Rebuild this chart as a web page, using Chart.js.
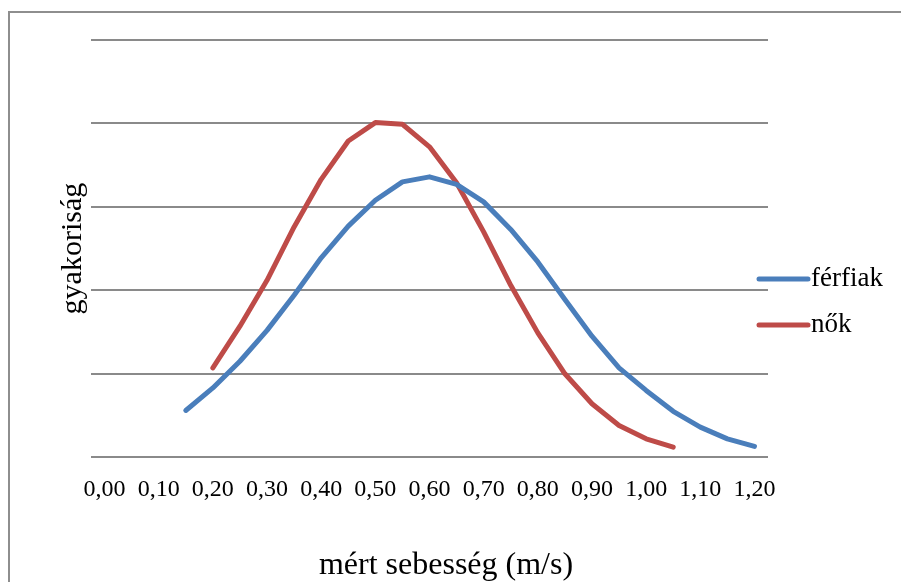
<!DOCTYPE html>
<html>
<head>
<meta charset="utf-8">
<script src="https://cdn.jsdelivr.net/npm/chart.js@4.4.1/dist/chart.umd.min.js"></script>
<style>
  html, body { margin: 0; padding: 0; background: #fff; }
  #wrap { position: relative; width: 901px; height: 582px; overflow: hidden; }
  #frame { position: absolute; left: 8px; top: 11px; width: 1000px; height: 1000px;
           border-left: 2px solid #8e8e8e; border-top: 2px solid #8e8e8e; }
  canvas { position: absolute; left: 0; top: 0; }
</style>
</head>
<body>
<div id="wrap">
  <div id="frame"></div>
  <canvas id="myChart" width="901" height="582"></canvas>
</div>
<script>
// speed categories (m/s), every 0.05
const speeds = ['0,00','0,05','0,10','0,15','0,20','0,25','0,30','0,35','0,40','0,45','0,50','0,55',
                '0,60','0,65','0,70','0,75','0,80','0,85','0,90','0,95','1,00','1,05','1,10','1,15','1,20'];

// férfiak (men), frequency in gridline units
const ferfiak = [null, null, null, 0.56, 0.83, 1.15, 1.52, 1.94, 2.39, 2.77, 3.08, 3.30,
                 3.36, 3.27, 3.06, 2.73, 2.34, 1.89, 1.45, 1.07, 0.80, 0.55, 0.36, 0.22, 0.13];

// nők (women)
const nok = [null, null, null, null, 1.07, 1.57, 2.12, 2.76, 3.33, 3.79, 4.01, 3.99,
             3.72, 3.29, 2.70, 2.06, 1.49, 1.00, 0.64, 0.38, 0.22, 0.12, null, null, null];

const seriesNames = ['férfiak', 'nők'];
const xTitle = 'mért sebesség (m/s)';
const yTitle = 'gyakoriság';

const serif = "'Liberation Serif', 'Times New Roman', serif";

// legend drawn like the spreadsheet one (overlaps the plot's right edge),
// plus the x title centred on the whole chart rather than the plot
const sideLegend = {
    id: 'sideLegend',
    afterDraw(chart) {
        const ctx = chart.ctx;
        ctx.save();
        chart.data.datasets.forEach((ds, i) => {
            const y = 279 + i * 46;
            ctx.beginPath();
            ctx.strokeStyle = ds.borderColor;
            ctx.lineWidth = 5;
            ctx.lineCap = 'round';
            ctx.moveTo(759, y);
            ctx.lineTo(808, y);
            ctx.stroke();
            ctx.fillStyle = '#000';
            ctx.font = '27px ' + serif;
            ctx.textBaseline = 'middle';
            ctx.textAlign = 'left';
            ctx.fillText(ds.label, 811, y);
        });
        ctx.font = '32px ' + serif;
        ctx.textAlign = 'center';
        ctx.textBaseline = 'middle';
        ctx.fillStyle = '#000';
        ctx.fillText(xTitle, 446, chart.scales.x.bottom - 16);
        ctx.restore();
    }
};

const ctx = document.getElementById('myChart').getContext('2d');
const myChart = new Chart(ctx, {
    type: 'line',
    data: {
        labels: speeds,
        datasets: [{
            label: seriesNames[0],
            data: ferfiak,
            borderColor: '#4a7ebb',
            borderWidth: 5,
            pointRadius: 0,
            tension: 0,
            borderCapStyle: 'round',
            borderJoinStyle: 'round'
        }, {
            label: seriesNames[1],
            data: nok,
            borderColor: '#be4b48',
            borderWidth: 5,
            pointRadius: 0,
            tension: 0,
            borderCapStyle: 'round',
            borderJoinStyle: 'round'
        }]
    },
    options: {
        responsive: false,
        maintainAspectRatio: false,
        animation: false,
        layout: { padding: { left: 55, right: 133, top: 40, bottom: 0 } },
        plugins: {
            legend: { display: false },
            tooltip: { enabled: false }
        },
        scales: {
            x: {
                type: 'category',
                offset: true,
                grid: { display: false, drawTicks: false },
                border: { display: false },
                ticks: {
                    autoSkip: false,
                    maxRotation: 0,
                    minRotation: 0,
                    padding: 18,
                    color: '#000',
                    font: { family: serif, size: 24 },
                    callback: function(value, index) {
                        return index % 2 === 0 ? this.getLabelForValue(value) : '';
                    }
                },
                title: {
                    // keeps the space; the text itself is painted by sideLegend
                    display: true,
                    text: xTitle,
                    color: 'rgba(0,0,0,0)',
                    font: { family: serif, size: 32, lineHeight: 1 },
                    padding: { top: 28, bottom: 0 }
                }
            },
            y: {
                min: 0,
                max: 5,
                ticks: { display: false, stepSize: 1 },
                grid: { color: '#8a8a8a', lineWidth: 2, drawTicks: false },
                border: { display: false },
                title: {
                    display: true,
                    text: yTitle,
                    color: '#000',
                    font: { family: serif, size: 30 },
                    padding: { top: 0, bottom: 0 }
                }
            }
        }
    },
    plugins: [sideLegend]
});
</script>
</body>
</html>
